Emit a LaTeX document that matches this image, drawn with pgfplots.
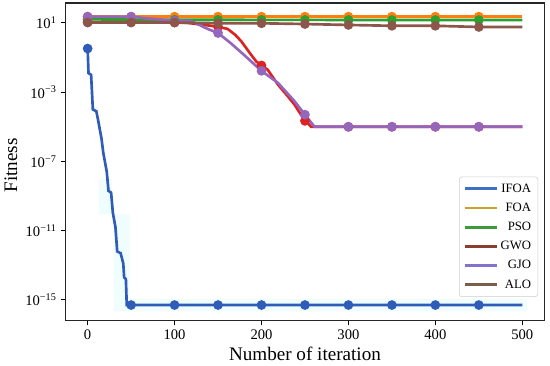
\documentclass[border=0pt]{standalone}
\usepackage{fontspec}
\setmainfont{Liberation Serif}
\usepackage{pgfplots}
\pgfplotsset{compat=1.18}
\newcommand\mminus{\char"2212\relax}
\definecolor{cIFOA}{RGB}{48,92,185}
\definecolor{cFOA}{RGB}{255,127,14}
\definecolor{cPSO}{RGB}{44,160,44}
\definecolor{cGWO}{RGB}{220,35,35}
\definecolor{cGJO}{RGB}{148,103,189}
\definecolor{cALO}{RGB}{140,86,75}
\definecolor{lIFOA}{RGB}{61,111,196}
\definecolor{lFOA}{RGB}{201,162,39}
\definecolor{lPSO}{RGB}{59,155,59}
\definecolor{lGWO}{RGB}{139,62,47}
\definecolor{lGJO}{RGB}{133,114,204}
\definecolor{lALO}{RGB}{123,94,74}
\definecolor{band}{RGB}{240,253,253}
\begin{document}
\begin{tikzpicture}
\begin{axis}[
  scale only axis, width=360pt, height=239.25pt,
  xmin=-25, xmax=525,
  ymode=log, ymin=6.3e-17, ymax=141,
  xtick={0,100,200,300,400,500},
  ytick={1e1,1e-3,1e-7,1e-11,1e-15},
  minor ytick={}, yminorticks=false,
  xtick pos=bottom, ytick pos=left,
  tick align=outside, major tick length=3.5pt,
  tick style={black, line width=0.7pt},
  axis line style={black!85, line width=0.8pt},
  /pgf/number format/assume math mode=true,
  tick label style={font=\fontsize{11}{13}\selectfont},
  yticklabel={\pgfmathtruncatemacro\myexp{round(\tick/2.302585093)}\pgfmathtruncatemacro\myabs{abs(\myexp)}10\textsuperscript{\ifnum\myexp<0 \mminus\fi\myabs}},
  xlabel={Number of iteration},
  ylabel={Fitness},
  label style={font=\fontsize{14.4}{17}\selectfont},
  xlabel style={at={(axis description cs:0.5,0)}, anchor=base, yshift=-30pt},
  ylabel style={at={(axis description cs:-0.1021,0.489)}, anchor=base},
  legend style={at={(axis description cs:0.9875,0.075)}, anchor=south east,
    font=\fontsize{9.6}{11}\selectfont, draw=black!20, rounded corners=2pt,
    fill=white, row sep=2.6pt, inner sep=3pt},
  legend cell align=right,
  legend image code/.code={\draw[line width=2pt] (0cm,0cm) -- (0.85cm,0cm);},
  every axis plot/.append style={line width=2pt},
  mark size=2.6pt,
]
% faint band around IFOA
\addplot[fill=band, draw=none, forget plot] coordinates {
 (12.6,9.1e-9) (27.5,9.1e-9) (27.5,8.9e-11) (48.2,8.9e-11) (48.2,1.12e-15)
 (505.7,1.12e-15) (505.7,2.3e-16) (29.8,2.3e-16) (29.8,8.9e-11) (12.6,8.9e-11)} -- cycle;
% IFOA
\addplot[cIFOA, forget plot] coordinates {
 (0,0.331) (1,0.0126) (4,0.01) (6,1e-4) (10,7.94e-5) (12,2.51e-5) (16,2.0e-6)
 (18,3.16e-7) (22,2.51e-8) (24,2.0e-9) (27,1.58e-9) (29,1.1e-10) (32,1.58e-11)
 (34,6.3e-13) (38,5.0e-13) (41,1.26e-13) (42,2.0e-14) (44,1.58e-14) (45,5.1e-16) (500,5.1e-16)};
\addplot[cIFOA, only marks, mark=*, forget plot] coordinates {
 (0,0.331) (50,5.1e-16) (100,5.1e-16) (150,5.1e-16) (200,5.1e-16) (250,5.1e-16)
 (300,5.1e-16) (350,5.1e-16) (400,5.1e-16) (450,5.1e-16)};
% FOA
\addplot[cFOA, forget plot] coordinates {(0,23) (100,23) (200,23) (300,23) (400,23) (500,23)};
\addplot[cFOA, only marks, mark=*, forget plot] coordinates {
 (0,23) (50,23) (100,23) (150,23) (200,23) (250,23) (300,23) (350,23) (400,23) (450,23)};
% PSO
\addplot[cPSO, forget plot] coordinates {(0,16) (100,15.2) (200,15) (300,14.8) (400,14.7) (500,14.6)};
\addplot[cPSO, only marks, mark=*, forget plot] coordinates {
 (0,16) (50,15.6) (100,15.2) (150,15.1) (200,15) (250,14.9) (300,14.8) (350,14.7) (400,14.7) (450,14.6)};
% GWO
\addplot[cGWO, forget plot] coordinates {
 (0,11) (50,11) (100,10.5) (115,10) (140,7) (150,6) (161,4.5) (170,2.0) (177,0.83)
 (188,0.145) (194,0.059) (200,0.035) (207,0.02) (219,2.7e-3) (230,6e-4) (238,1.9e-4)
 (249,2.6e-5) (253,1.7e-5) (257,1.0e-5) (500,1.0e-5)};
\addplot[cGWO, only marks, mark=*, forget plot] coordinates {
 (0,11) (50,11) (100,10.5) (150,6) (200,0.035) (250,2.2e-5) (300,1e-5) (350,1e-5) (400,1e-5) (450,1e-5)};
% GJO
\addplot[cGJO, forget plot] coordinates {
 (0,23) (50,23) (66,18.6) (100,13.5) (119,13) (138,4.5) (150,2.6) (165,0.65)
 (180,0.14) (200,0.017) (219,3.4e-3) (238,3.0e-4) (250,5e-5) (261,1.0e-5) (500,1.0e-5)};
\addplot[cGJO, only marks, mark=*, forget plot] coordinates {
 (0,23) (50,23) (100,13.5) (150,2.6) (200,0.017) (250,5e-5) (300,1e-5) (350,1e-5) (400,1e-5) (450,1e-5)};
% ALO
\addplot[cALO, forget plot] coordinates {
 (0,10.5) (50,10.5) (100,10.5) (150,9.6) (200,9.5) (250,8.6) (300,7.6) (350,6.8) (400,6.8) (450,5.8) (500,5.8)};
\addplot[cALO, only marks, mark=*, forget plot] coordinates {
 (0,10.5) (50,10.5) (100,10.5) (150,9.6) (200,9.5) (250,8.6) (300,7.6) (350,6.8) (400,6.8) (450,5.8)};
% legend
\addlegendimage{lIFOA}\addlegendentry{IFOA}
\addlegendimage{lFOA}\addlegendentry{FOA}
\addlegendimage{lPSO}\addlegendentry{PSO}
\addlegendimage{lGWO}\addlegendentry{GWO}
\addlegendimage{lGJO}\addlegendentry{GJO}
\addlegendimage{lALO}\addlegendentry{ALO}
\end{axis}
\path[use as bounding box] (-48pt,-31.5pt) rectangle (364.5pt,241.5pt);
\end{tikzpicture}
\end{document}
